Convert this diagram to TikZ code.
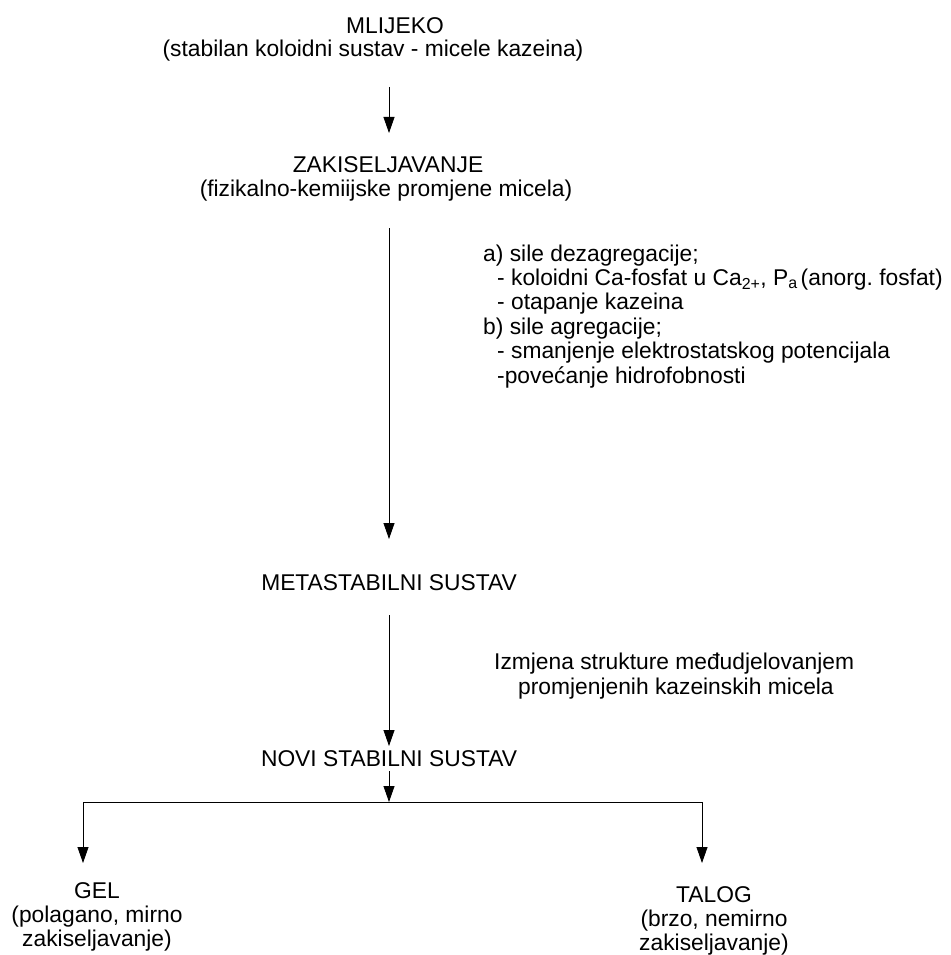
\documentclass[tikz,border=0pt]{standalone}
\usepackage{fontspec}
\setmainfont{Liberation Sans}
\usetikzlibrary{arrows.meta}
\frenchspacing
\begin{document}
\begin{tikzpicture}[x=1pt,y=-1pt,
  txt/.style={inner sep=0pt, font=\fontsize{22.8}{23.5}\selectfont, align=center},
  ltxt/.style={inner sep=0pt, font=\fontsize{22.8}{24.4}\selectfont, align=left},
  arr/.style={draw=black, line width=0.8pt, -{Triangle[length=16pt,width=11pt]}},
  ln/.style={draw=black, line width=0.8pt}]
\useasboundingbox (0,0) rectangle (950,955);
\fill[white] (0,0) rectangle (950,955);
% nodes
\node[txt, anchor=base] (mlijeko) at (373,57) {\makebox[0pt]{\hspace{44pt}MLIJEKO}\\(stabilan koloidni sustav - micele kazeina)};
\node[txt, anchor=base] (zak) at (386,196) {\makebox[0pt]{\hspace{4pt}ZAKISELJAVANJE}\\(fizikalno-kemiijske promjene micela)};
\node[ltxt, anchor=base west] (info1) at (483,383) {a) sile dezagregacije;\\
\hspace{14pt}- koloidni Ca-fosfat u Ca\textsubscript{2+}, P\textsubscript{a}\hspace{3pt}(anorg. fosfat)\\
\hspace{14pt}- otapanje kazeina\\
b) sile agregacije;\\
\hspace{14pt}- smanjenje elektrostatskog potencijala\\
\hspace{14pt}-pove\'canje hidrofobnosti};
\node[txt, anchor=base] (meta) at (389,590) {METASTABILNI SUSTAV};
\node[txt, anchor=base west, align=left, font=\fontsize{22.8}{25}\selectfont] (info2) at (494,694) {Izmjena strukture me\dj udjelovanjem\\\hspace{24pt}promjenjenih kazeinskih micela};
\node[txt, anchor=base] (novi) at (389,766) {NOVI STABILNI SUSTAV};
\node[txt, anchor=base, font=\fontsize{22.8}{24}\selectfont] (gel) at (97,946) {GEL\\(polagano, mirno\\zakiseljavanje)};
\node[txt, anchor=base, font=\fontsize{22.8}{24}\selectfont] (talog) at (714,950) {TALOG\\(brzo, nemirno\\zakiseljavanje)};
% axis coordinates
\coordinate (a1s) at (389,87);
\coordinate (a1e) at (389,133);
\coordinate (a2s) at (389,228);
\coordinate (a2e) at (389,539);
\coordinate (a3s) at (389,615);
\coordinate (a3e) at (389,746);
\coordinate (a4s) at (389,771);
\coordinate (split) at (389,802);
\coordinate (lcorner) at (83,802);
\coordinate (rcorner) at (702,802);
\coordinate (ltip) at (83,863);
\coordinate (rtip) at (702,863);
\draw[arr] (a1s) -- (a1e);
\draw[arr] (a2s) -- (a2e);
\draw[arr] (a3s) -- (a3e);
\draw[arr] (a4s) -- (split);
\draw[ln] (lcorner) -- (rcorner);
\draw[arr] (lcorner) -- (ltip);
\draw[arr] (rcorner) -- (rtip);
\end{tikzpicture}
\end{document}
